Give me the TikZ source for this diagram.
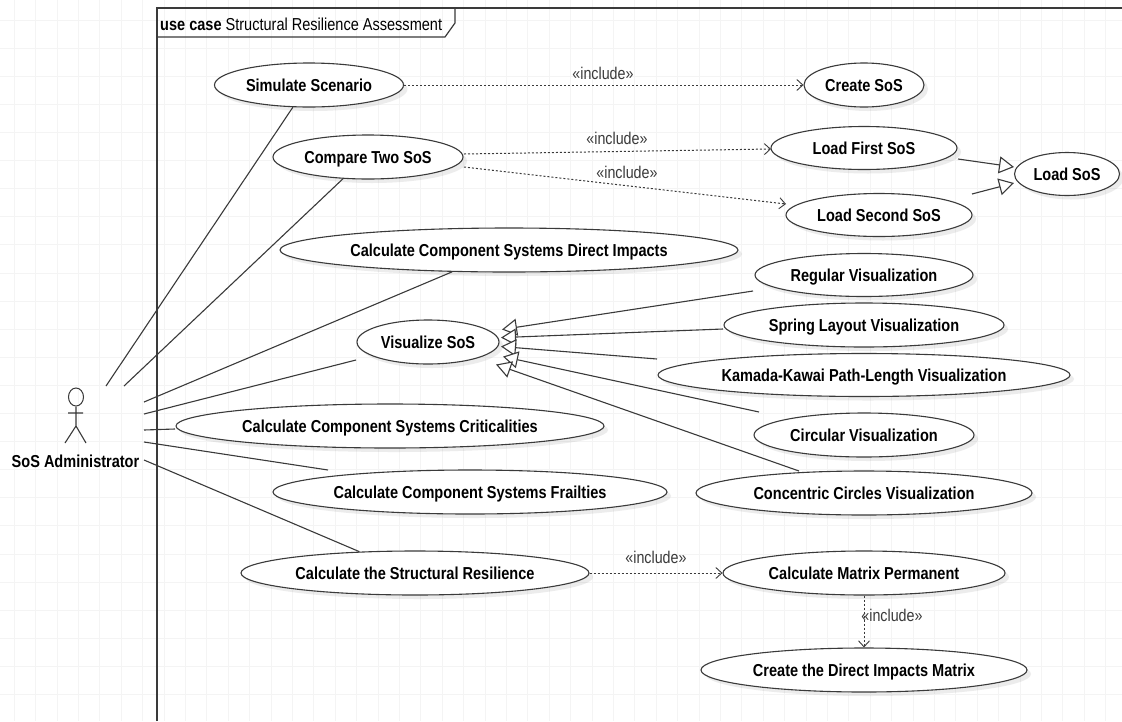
\documentclass[tikz,border=0pt]{standalone}
\usepackage{fontspec}
\setmainfont{Liberation Sans}[FakeStretch=0.84]
\usetikzlibrary{arrows.meta,shadows,shapes.geometric}
\definecolor{ink}{HTML}{3A3A3A}
\definecolor{gridc}{HTML}{F4F4F4}
\tikzset{
  uc/.style args={#1/#2}{draw=ink,line width=1.1pt,fill=white,ellipse,inner sep=0pt,
    minimum width=#1*2pt,minimum height=#2*2pt,text=black,
    text height=12.4pt,text depth=0pt,
    font=\fontsize{17.3}{19}\selectfont\bfseries,
    drop shadow={opacity=0.15,shadow xshift=4pt,shadow yshift=-4pt}},
  assoc/.style={draw=ink,line width=1.1pt},
  gen/.style={draw=ink,line width=1.1pt,-{Triangle[open,length=15pt,width=17pt,fill=white]}},
  dep/.style={draw=ink,line width=1pt,dash pattern=on 2pt off 2pt,
    -{Straight Barb[length=6pt,width=11pt,line width=0.9pt]}},
  inc/.style={font=\fontsize{17}{19}\selectfont,text=ink,inner sep=0pt},
}
\begin{document}
\begin{tikzpicture}[x=1pt,y=-1pt]
\useasboundingbox (0,0) rectangle (1122,721);
\fill[white] (0,0) rectangle (1122,721);
% grid
\foreach \k in {0,...,52}{\draw[gridc,line width=0.6pt] ({14+21.4*\k},0) -- ({14+21.4*\k},721);}
\foreach \k in {-1,...,24}{\draw[gridc,line width=0.6pt] (0,{48+28.1*\k}) -- (1122,{48+28.1*\k});}
% frame
\draw[ink,line width=1.2pt] (157,721) -- (157,8) -- (1122,8);
\draw[ink,line width=1.2pt] (157,37) -- (445,37) -- (455,23) -- (455,8);
\node[anchor=west,inner sep=0pt,font=\fontsize{17.3}{19}\selectfont] (framelabel) at (160,24) {\textbf{use case} Structural Resilience Assessment};
% use cases
\node[uc=94.5/22] (sim) at (309,85) {Simulate Scenario};
\node[uc=95/22] (cmp) at (368,157) {Compare Two SoS};
\node[uc=229/22] (dir) at (509,250) {Calculate Component Systems Direct Impacts};
\node[uc=71/22] (vis) at (428,342) {Visualize SoS};
\node[uc=60/22] (create) at (864,85) {Create SoS};
\node[uc=93/21.5] (first) at (864,148) {Load First SoS};
\node[uc=93/21.5] (second) at (879,215) {Load Second SoS};
\node[uc=52.5/21.5] (load) at (1067,174) {Load SoS};
\node[uc=109/21.5] (reg) at (864,275) {Regular Visualization};
\node[uc=140/22] (spring) at (864,325) {Spring Layout Visualization};
\node[uc=206/21.5] (kk) at (864,375) {Kamada-Kawai Path-Length Visualization};
\node[uc=110/22] (circ) at (864,435) {Circular Visualization};
\node[uc=168/22] (conc) at (864,493) {Concentric Circles Visualization};
\node[uc=214/22] (crit) at (390,426) {Calculate Component Systems Criticalities};
\node[uc=197/22] (frail) at (470,492) {Calculate Component Systems Frailties};
\node[uc=174/22] (res) at (415,573) {Calculate the Structural Resilience};
\node[uc=141/22] (perm) at (864,573) {Calculate Matrix Permanent};
\node[uc=163/22] (mat) at (864,670) {Create the Direct Impacts Matrix};
% actor
\node[draw=ink,line width=1pt,ellipse,inner sep=0pt,minimum width=15pt,minimum height=18pt] (head) at (76,397) {};
\coordinate (hip) at (76,426);
\coordinate (armL) at (68,413);
\coordinate (armR) at (83,413);
\coordinate (legL) at (65,443);
\coordinate (legR) at (86,443);
\draw[assoc] (head.south) -- (hip) (armL) -- (armR) (legL) -- (hip) -- (legR);
\node[font=\fontsize{17.3}{19}\selectfont\bfseries,inner sep=0pt] (admin) at (75.5,461) {SoS Administrator};
% actor ports
\coordinate (p1) at (106,386);
\coordinate (p2) at (124,386);
\coordinate (p3) at (144,402);
\coordinate (p4) at (144,414);
\coordinate (p5) at (144,430);
\coordinate (p6) at (144,442);
\coordinate (p7) at (144,460);
\coordinate (visEnd) at (356,360);
\coordinate (critEnd) at (175,429);
\coordinate (frailEnd) at (328,470);
\draw[assoc] (p1) -- (sim.234);
\draw[assoc] (p2) -- (cmp.221);
\draw[assoc] (p3) -- (dir.201.4);
\draw[assoc] (p4) -- (visEnd);
\draw[assoc] (p5) -- (critEnd);
\draw[assoc] (p6) -- (frailEnd);
\draw[assoc] (p7) -- (res.159);
% generalisations
\coordinate (regS) at (753,291);
\coordinate (springS) at (723,329);
\coordinate (kkS) at (657,359);
\coordinate (circS) at (759,412);
\coordinate (concS) at (799,471);
\coordinate (tReg) at (502,329.5);
\coordinate (tSpring) at (501,337.6);
\coordinate (tKk) at (501,346.5);
\coordinate (tCirc) at (503,356.6);
\coordinate (tConc) at (496,364.5);
\draw[gen] (regS) -- (tReg);
\draw[gen] (springS) -- (tSpring);
\draw[gen] (kkS) -- (tKk);
\draw[gen] (circS) -- (tCirc);
\draw[gen] (concS) -- (tConc);
\coordinate (firstS) at (958,159);
\coordinate (secondS) at (972,194);
\coordinate (tFirst) at (1014,167);
\coordinate (tSecond) at (1014,183);
\draw[gen] (firstS) -- (tFirst);
\draw[gen] (secondS) -- (tSecond);
% includes
\coordinate (cmpA) at (464,154);
\coordinate (cmpB) at (464,167);
\coordinate (firstT) at (771,149);
\coordinate (secondT) at (786,204);
\draw[dep] (sim.east) -- (create.west);
\draw[dep] (cmpA) -- (firstT);
\draw[dep] (cmpB) -- (secondT);
\draw[dep] (res.east) -- (perm.west);
\draw[dep] (perm.south) -- (mat.north);
\node[inc] (i1) at (603,73) {«include»};
\node[inc] (i2) at (617,138) {«include»};
\node[inc] (i3) at (627,172) {«include»};
\node[inc] (i4) at (656,557) {«include»};
\node[inc] (i5) at (892,615) {«include»};
\end{tikzpicture}
\end{document}
